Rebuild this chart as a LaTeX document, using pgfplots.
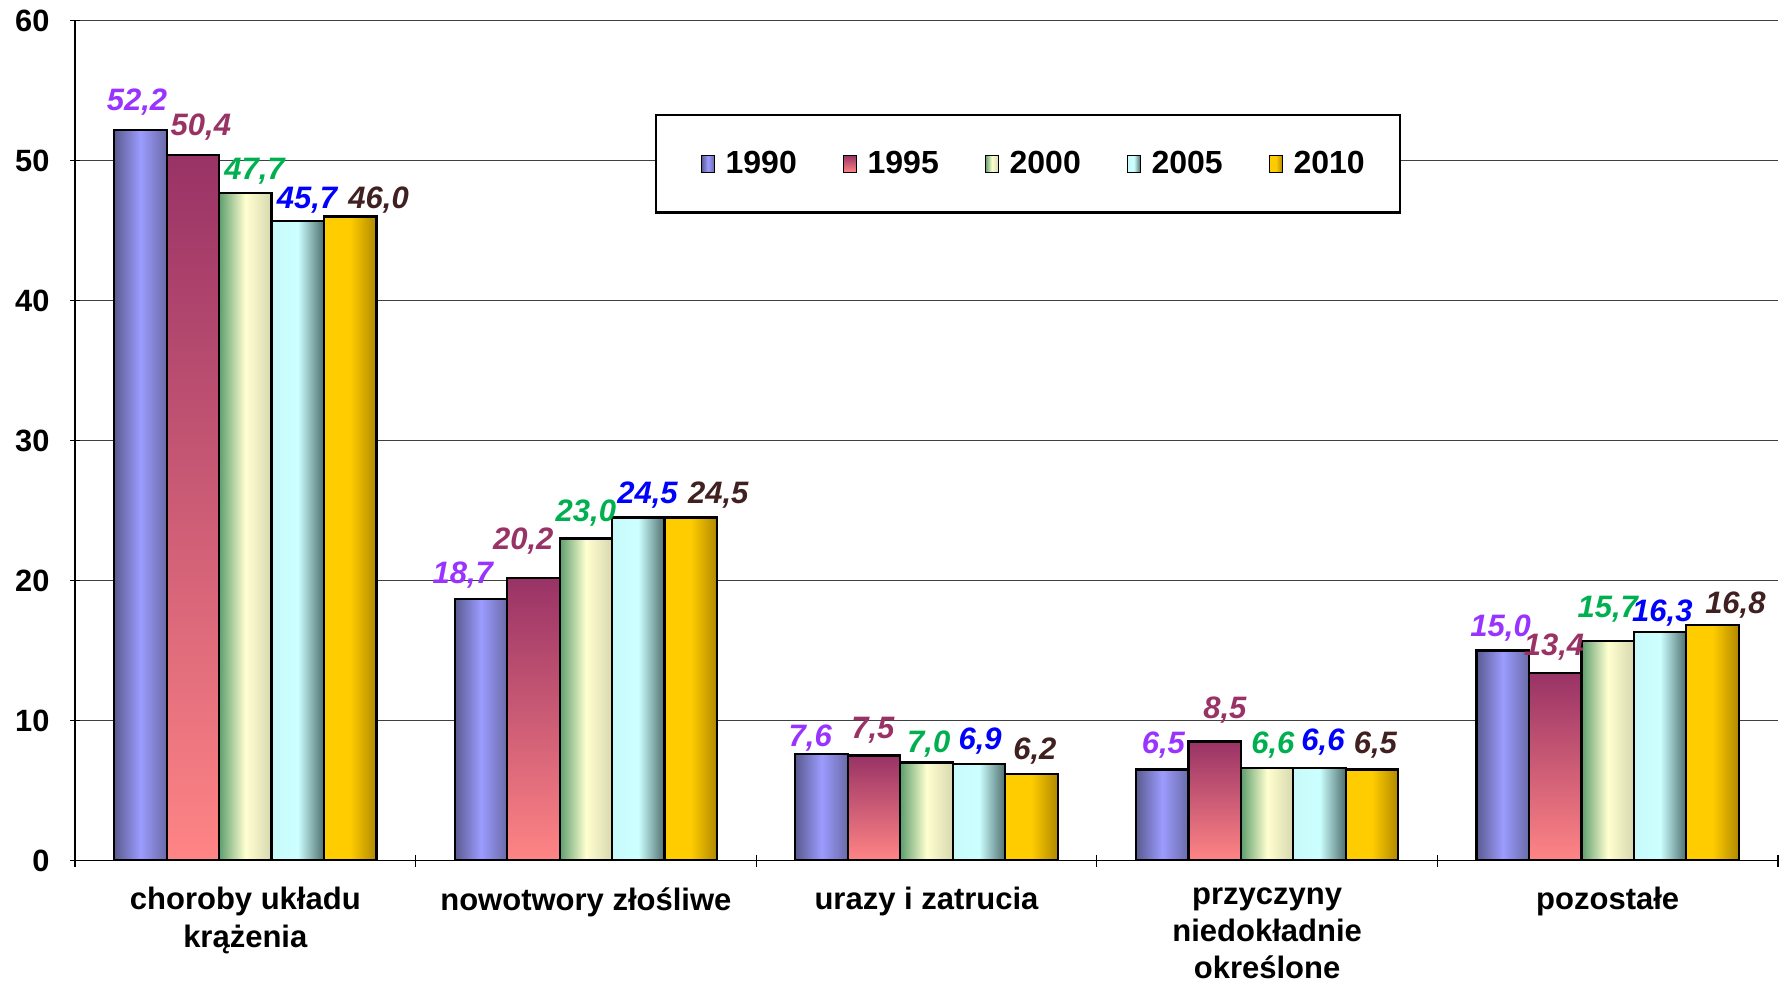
\documentclass[border=0pt]{standalone}
\usepackage{pgfplots}
\pgfplotsset{compat=1.18}
\usepackage{fontspec}
\setmainfont{Liberation Sans}
\definecolor{lA}{HTML}{9933FF}
\definecolor{lB}{HTML}{993366}
\definecolor{lC}{HTML}{00B050}
\definecolor{lD}{HTML}{0000FF}
\definecolor{lE}{HTML}{402020}
\definecolor{aL}{HTML}{5A5A90}
\definecolor{aM}{HTML}{9C9CFF}
\definecolor{aR}{HTML}{6A6AA8}
\definecolor{bT}{HTML}{993366}
\definecolor{bB}{HTML}{FF8585}
\definecolor{cL}{HTML}{5E9E6E}
\definecolor{cM}{HTML}{FFFFD0}
\definecolor{cR}{HTML}{D8D8B0}
\definecolor{dL}{HTML}{C8FAFA}
\definecolor{dM}{HTML}{CCFFFF}
\definecolor{dR}{HTML}{4E6E6E}
\definecolor{eL}{HTML}{FFCC00}
\definecolor{eM}{HTML}{FFCC00}
\definecolor{eR}{HTML}{B08800}
\pgfplotsset{
  barbase/.style={draw=black, line width=1.1pt, forget plot},
  sA/.style={barbase, left color=aL, right color=aR, middle color=aM, bar shift=-0.308,
    every node near coord/.append style={text=lA}},
  sB/.style={barbase, top color=bT, bottom color=bB, bar shift=-0.154,
    every node near coord/.append style={text=lB}},
  sC/.style={barbase, left color=cL, right color=cR, middle color=cM, bar shift=0,
    every node near coord/.append style={text=lC}},
  sD/.style={barbase, left color=dL, right color=dR, middle color=dM, bar shift=0.154,
    every node near coord/.append style={text=lD}},
  sE/.style={barbase, left color=eL, right color=eR, middle color=eM, bar shift=0.308,
    every node near coord/.append style={text=lE}},
}
\newcommand{\onebar}[5]{\addplot[#1, every node near coord/.append style={xshift=#4, yshift=#5}] coordinates {(#2,#3)};}
\newcommand{\lgimg}[1]{\addlegendimage{legend image code/.code={\path (0pt,0pt) (16pt,0pt); \draw[#1, draw=black, line width=0.6pt] (6.5pt,-4.25pt) rectangle (13pt,4.25pt);}}}
\begin{document}
\begin{tikzpicture}
\useasboundingbox (-37.5pt,-62.5pt) rectangle (856pt,430.25pt);
\begin{axis}[
  scale only axis,
  width=851.5pt, height=420pt,
  ybar, bar width=0.154,
  xmin=-0.5, xmax=4.5,
  ymin=0, ymax=60,
  ytick={0,10,...,60},
  xtick={0,1,2,3,4},
  xticklabels={{choroby układu\\krążenia},{nowotwory złośliwe},{urazy i zatrucia},{przyczyny\\niedokładnie\\określone},{pozostałe}},
  minor xtick={-0.5,0.5,1.5,2.5,3.5,4.5},
  major x tick style={draw=none},
  minor x tick style={draw=black, line width=0.6pt},
  y tick style={draw=black, line width=0.6pt},
  tick align=outside,
  major tick length=4.5pt,
  minor tick length=6pt,
  axis lines=left,
  axis line style={-, black, line width=0.8pt},
  ymajorgrids,
  major grid style={black!75, line width=0.6pt},
  /pgf/number format/assume math mode=true,
  yticklabel style={font=\fontsize{15.4}{18}\selectfont\bfseries, xshift=-7pt},
  xticklabel style={font=\fontsize{15.5}{18.6}\selectfont\bfseries, align=center, yshift=-7.7pt},
  nodes near coords={\pgfmathprintnumber[fixed,fixed zerofill,precision=1,use comma,assume math mode=true]{\pgfplotspointmeta}},
  nodes near coords style={font=\fontsize{15.5}{18}\selectfont\bfseries\itshape, inner sep=2pt},
  legend columns=5,
  legend style={at={(0.3406,0.8887)}, anchor=north west, draw=black, line width=1.2pt,
    font=\fontsize{16}{19}\selectfont\bfseries, inner xsep=15.5pt, inner ysep=16pt,
    /tikz/every even column/.append style={column sep=14.2pt}},
  legend cell align=left,
]
% 1990
\onebar{sA}{0}{52.2}{-1.7pt}{4.6pt}
\onebar{sA}{1}{18.7}{-9.1pt}{2.9pt}
\onebar{sA}{2}{7.6}{-5.7pt}{-1.1pt}
\onebar{sA}{3}{6.5}{0.6pt}{2.9pt}
\onebar{sA}{4}{15.0}{-1.1pt}{2.3pt}
% 1995
\onebar{sB}{0}{50.4}{4pt}{4.6pt}
\onebar{sB}{1}{20.2}{-5.1pt}{9.1pt}
\onebar{sB}{2}{7.5}{-0.6pt}{3.4pt}
\onebar{sB}{3}{8.5}{5.1pt}{6.8pt}
\onebar{sB}{4}{13.4}{-0.6pt}{4pt}
% 2000
\onebar{sC}{0}{47.7}{4.6pt}{1.7pt}
\onebar{sC}{1}{23.0}{0pt}{3.4pt}
\onebar{sC}{2}{7.0}{1.1pt}{0pt}
\onebar{sC}{3}{6.6}{2.9pt}{2.3pt}
\onebar{sC}{4}{15.7}{0pt}{6.8pt}
% 2005
\onebar{sD}{0}{45.7}{4.6pt}{1.1pt}
\onebar{sD}{1}{24.5}{4.6pt}{2.3pt}
\onebar{sD}{2}{6.9}{0.6pt}{2.3pt}
\onebar{sD}{3}{6.6}{1.7pt}{4pt}
\onebar{sD}{4}{16.3}{1.1pt}{0.6pt}
% 2010
\onebar{sE}{0}{46.0}{14.2pt}{-1.1pt}
\onebar{sE}{1}{24.5}{13.7pt}{2.3pt}
\onebar{sE}{2}{6.2}{1.7pt}{2.3pt}
\onebar{sE}{3}{6.5}{1.7pt}{2.9pt}
\onebar{sE}{4}{16.8}{11.4pt}{1.1pt}
\lgimg{left color=aL, right color=aR, middle color=aM}
\addlegendentry{1990}
\lgimg{top color=bT, bottom color=bB}
\addlegendentry{1995}
\lgimg{left color=cL, right color=cR, middle color=cM}
\addlegendentry{2000}
\lgimg{left color=dL, right color=dR, middle color=dM}
\addlegendentry{2005}
\lgimg{left color=eL, right color=eR, middle color=eM}
\addlegendentry{2010}
\end{axis}
\end{tikzpicture}
\end{document}
